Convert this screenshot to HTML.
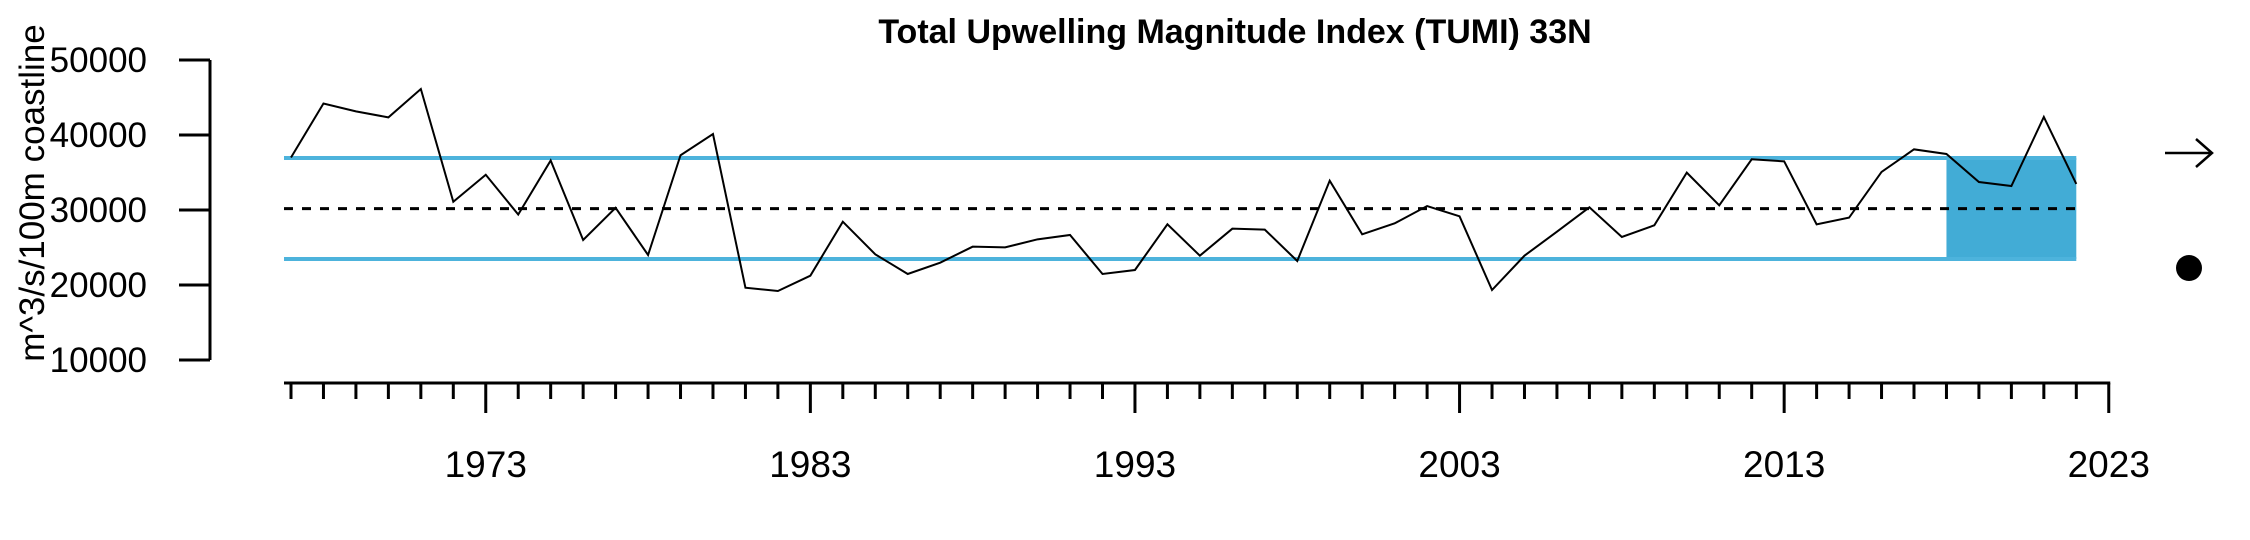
<!DOCTYPE html>
<html><head><meta charset="utf-8"><style>
html,body{margin:0;padding:0;background:#fff;}
svg{display:block;font-family:"Liberation Sans",Arial,sans-serif;}
</style></head><body>
<svg id="chart" width="2250" height="540" viewBox="0 0 2250 540" xmlns="http://www.w3.org/2000/svg">
<text x="1235" y="43" text-anchor="middle" font-size="34" font-weight="bold">Total Upwelling Magnitude Index (TUMI) 33N</text>
<text transform="translate(44,193) rotate(-90)" text-anchor="middle" font-size="35">m^3/s/100m coastline</text>
<g id="plot"></g>
<line x1="2165" y1="153" x2="2212" y2="153" stroke="#000" stroke-width="2.5"/>
<polyline points="2196,139 2212,153 2196,167" fill="none" stroke="#000" stroke-width="2.5"/>
<circle cx="2189" cy="268" r="13" fill="#000"/>
</svg>
<script>
const years = [1967,1968,1969,1970,1971,1972,1973,1974,1975,1976,1977,1978,1979,1980,1981,1982,1983,1984,1985,1986,1987,1988,1989,1990,1991,1992,1993,1994,1995,1996,1997,1998,1999,2000,2001,2002,2003,2004,2005,2006,2007,2008,2009,2010,2011,2012,2013,2014,2015,2016,2017,2018,2019,2020,2021,2022];
const values = [37000,44200,43150,42350,46130,31100,34700,29400,36600,26000,30300,24000,37300,40130,19640,19200,21240,28440,24090,21470,22980,25110,25020,26090,26670,21470,22000,28090,23910,27510,27380,23200,33910,26760,28220,30530,29160,19330,23910,27110,30360,26400,27960,34980,30620,36760,36490,28090,28980,35070,38090,37470,33730,33200,42400,33470];
const meanValue = 30180;
const upperSD = 36930;
const lowerSD = 23470;
const shadeStartYear = 2018;
const yTicks = [10000,20000,30000,40000,50000];
const xLabelYears = [1973,1983,1993,2003,2013,2023];

const NS = "http://www.w3.org/2000/svg";
const g = document.getElementById('plot');
function X(yr){ return 291 + (yr - 1967) * 32.46; }
function Y(v){ return 60 + (50000 - v) / 10000 * 75; }
function mk(tag, attrs){ const e = document.createElementNS(NS, tag); for (const k in attrs) e.setAttribute(k, attrs[k]); g.appendChild(e); return e; }

const x0 = X(years[0]), x1 = X(years[years.length-1]);
let e;
e = mk('rect', {x: X(shadeStartYear), y: Y(upperSD), width: x1 - X(shadeStartYear), height: Y(lowerSD) - Y(upperSD), fill: '#42acd6'});


e = mk('line', {x1: 284, x2: x1, y1: Y(upperSD), y2: Y(upperSD), stroke: '#4db3dc', 'stroke-width': 4});


e = mk('line', {x1: 284, x2: x1, y1: Y(lowerSD), y2: Y(lowerSD), stroke: '#4db3dc', 'stroke-width': 4});


e = mk('line', {x1: 284, x2: x1, y1: Y(meanValue), y2: Y(meanValue), stroke: '#000', 'stroke-width': 3, 'stroke-dasharray': '9,9'});


e = mk('polyline', {points: years.map((yr,i)=>X(yr)+','+Y(values[i])).join(' '), fill: 'none', stroke: '#000', 'stroke-width': 2});



// y axis
e = mk('line', {x1: 210, x2: 210, y1: Y(yTicks[yTicks.length-1]), y2: Y(yTicks[0]), stroke: '#000', 'stroke-width': 3});


yTicks.forEach(v => {
  let t = mk('line', {x1: 179, x2: 210, y1: Y(v), y2: Y(v), stroke: '#000', 'stroke-width': 3});
  
  
  let l = mk('text', {x: 147, y: Y(v) + 12, 'text-anchor': 'end', 'font-size': 35});
  l.textContent = v;
  
  
});
// x axis
e = mk('line', {x1: 284, x2: X(2023) + 1.5, y1: 383, y2: 383, stroke: '#000', 'stroke-width': 3});


for (let yr = 1967; yr <= 2023; yr++) {
  const major = xLabelYears.indexOf(yr) >= 0;
  let t = mk('line', {x1: X(yr), x2: X(yr), y1: 383, y2: major ? 413 : 399, stroke: '#000', 'stroke-width': 3});
  
  
}
xLabelYears.forEach(yr => {
  let l = mk('text', {x: X(yr), y: 477, 'text-anchor': 'middle', 'font-size': 37});
  l.textContent = yr;
  
  
});
</script>
</body></html>
